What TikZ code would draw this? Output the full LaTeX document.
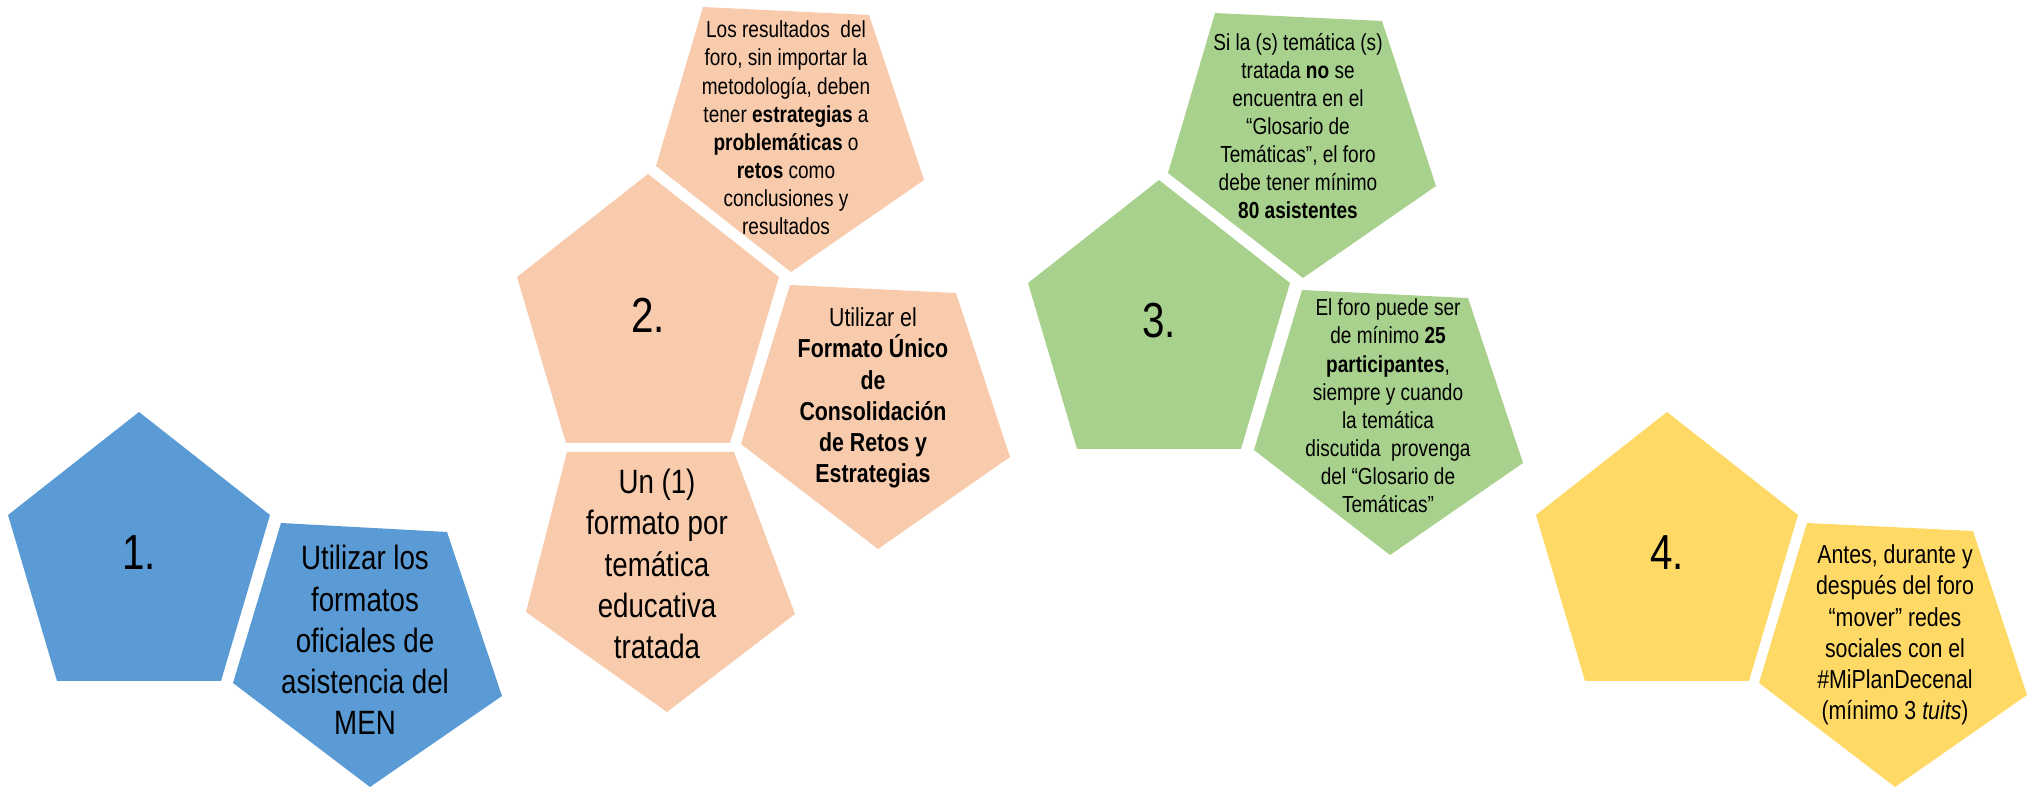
\documentclass[tikz,border=0pt]{standalone}
\usepackage{fontspec}
\setmainfont{Liberation Sans}[FakeStretch=0.82]
\usepackage{tikz}
\definecolor{blueA}{HTML}{5B9BD5}
\definecolor{peach}{HTML}{F8CBAD}
\definecolor{greenA}{HTML}{A9D18E}
\definecolor{yellowA}{HTML}{FFD966}

\tikzset{
  numtxt/.style={font=\fontsize{14}{16}\selectfont},
  bigtxt/.style={align=center,font=\fontsize{9.6}{11.7}\selectfont},
  midtxt/.style={align=center,font=\fontsize{7.4}{8.9}\selectfont},
  smalltxt/.style={align=center,font=\fontsize{6.6}{8}\selectfont},
}

\begin{document}
\begin{tikzpicture}[x=0.01cm,y=0.01cm]
  \useasboundingbox (0,0) rectangle (2030,788);
  % main pentagons with their numbers
  \foreach \x/\y/\col/\num in {139/376/blueA/1, 648/614/peach/2, 1159/608/greenA/3, 1667/376/yellowA/4} {
    \fill[\col] (\x,\y) -- ++(131,-103) -- ++(-49,-166) -- ++(-164,0) -- ++(-49,166) -- cycle;
    \node[numtxt] (num\num) at (\x,\y-141) {\num.};
  }

  % 1.
  \fill[blueA] (281,265) -- (447,256) -- (502,92) -- (370,1) -- (233,105) -- cycle;
  \node[bigtxt] (formatos) at (365,148) {Utilizar los\\formatos\\oficiales de\\asistencia del\\MEN};

  % 2.
  \fill[peach] (703,781) -- (869,773) -- (924,608) -- (791,516) -- (656,622) -- cycle;
  \node[smalltxt] (resultados) at (786,660) {Los resultados \ del\\foro, sin importar la\\metodología, deben\\tener \textbf{estrategias} a\\\textbf{problemáticas} o\\\textbf{retos} como\\conclusiones y\\resultados};
  \fill[peach] (790,503) -- (956,495) -- (1010,331) -- (878,239) -- (741,344) -- cycle;
  \node[midtxt] (formatounico) at (873,390) {Utilizar el\\\textbf{Formato Único}\\\textbf{de}\\\textbf{Consolidación}\\\textbf{de Retos y}\\\textbf{Estrategias}};
  \fill[peach] (567,336) -- (734,336) -- (795,174) -- (667,76) -- (526,176) -- cycle;
  \node[bigtxt] (unformato) at (657,224) {Un (1)\\formato por\\temática\\educativa\\tratada};

  % 3.
  \fill[greenA] (1215,775) -- (1382,767) -- (1436,602) -- (1303,510) -- (1168,615) -- cycle;
  \node[smalltxt] (asistentes) at (1298,662) {Si la (s) temática (s)\\tratada \textbf{no} se\\encuentra en el\\“Glosario de\\Temáticas”, el foro\\debe tener mínimo\\\textbf{80 asistentes}};
  \fill[greenA] (1302,498) -- (1468,490) -- (1523,325) -- (1390,233) -- (1254,338) -- cycle;
  \node[smalltxt] (participantes) at (1388,382) {El foro puede ser\\de mínimo \textbf{25}\\\textbf{participantes},\\siempre y cuando\\la temática\\discutida \ provenga\\del “Glosario de\\Temáticas”};

  % 4.
  \fill[yellowA] (1807,265) -- (1973,257) -- (2027,93) -- (1895,1) -- (1759,105) -- cycle;
  \node[midtxt] (redes) at (1895,153) {Antes, durante y\\después del foro\\“mover” redes\\sociales con el\\\#MiPlanDecenal\\(mínimo 3 \textit{tuits})};
\end{tikzpicture}
\end{document}
